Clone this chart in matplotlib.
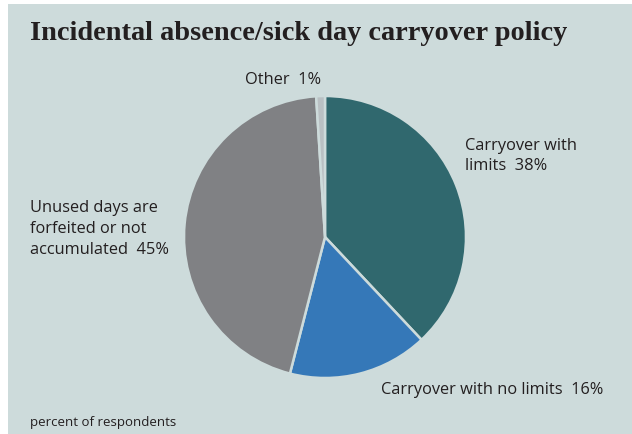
import matplotlib.pyplot as plt
from matplotlib.patches import Rectangle

# slices, clockwise from 12 o'clock
labels = ["Carryover with\nlimits", "Carryover with no limits",
          "Unused days are\nforfeited or not\naccumulated", "Other"]
values = [38, 16, 45, 1]
colors = ["#30686e", "#3578b8", "#808184", "#b9c0c3"]

bg = "#cddbdb"
W, H = 632, 435

fig = plt.figure(figsize=(W / 100, H / 100), dpi=100, facecolor="white")
fig.patches.append(Rectangle((8 / W, 0), 1, 1 - 5 / H, transform=fig.transFigure,
                             facecolor=bg, edgecolor="none", zorder=-10))

def px(x, y):
    return x / W, 1 - y / H

# pie centre ~ (325, 238), radius ~141 px
cx, cy, r = 325, 238, 141
ax = fig.add_axes([(cx - r) / W, (H - cy - r) / H, 2 * r / W, 2 * r / H])
ax.pie(values, colors=colors, startangle=90, counterclock=False,
       wedgeprops=dict(edgecolor=bg, linewidth=1.8))
ax.set_xlim(-1, 1)
ax.set_ylim(-1, 1)
ax.set_aspect("equal")
ax.axis("off")

fig.text(*px(30, 33), "Incidental absence/sick day carryover policy",
         family="Liberation Serif", fontweight="bold", fontsize=20.4,
         color="#231f20", va="center", ha="left")

lab = dict(family="Open Sans", fontsize=11.8, color="#231f20", linespacing=1.4)
txt = [f"{l}  {v}%" for l, v in zip(labels, values)]
fig.text(*px(465, 156), txt[0], ha="left", va="center", **lab)
fig.text(*px(381, 390), txt[1], ha="left", va="center", **lab)
fig.text(*px(30, 229), txt[2], ha="left", va="center", **lab)
fig.text(*px(245, 80), txt[3], ha="left", va="center", **lab)
fig.text(*px(30, 423), "percent of respondents", ha="left", va="center",
         family="Open Sans", fontsize=9.5, color="#231f20")

fig.savefig("out.png", dpi=100, facecolor="white")
